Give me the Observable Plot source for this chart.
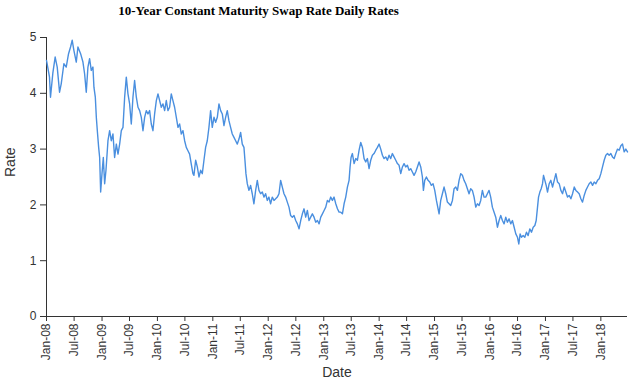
<!DOCTYPE html>
<html><head><meta charset="utf-8">
<script src="https://cdn.jsdelivr.net/npm/d3@7"></script>
<script src="https://cdn.jsdelivr.net/npm/@observablehq/plot@0.6"></script>
<style>
body{margin:0;background:#fff;}
#title{width:517px;height:30px;box-sizing:border-box;padding-top:3px;text-align:center;font:bold 13px "Liberation Serif",Georgia,serif;line-height:15px;color:#000;}
#chart svg{display:block;}
</style></head><body>
<div id="title">10-Year Constant Maturity Swap Rate Daily Rates</div>
<div id="chart"></div>
<script>
// decimal years (dates) of the readings
const years = [
2008.000,2008.054,2008.072,2008.114,2008.156,2008.193,2008.235,2008.265,2008.313,2008.355,
2008.397,2008.433,2008.463,2008.493,2008.536,2008.566,2008.614,2008.656,2008.686,2008.716,
2008.746,2008.776,2008.806,2008.836,2008.854,2008.879,2008.897,2008.915,2008.939,2008.957,
2008.975,2008.999,2009.023,2009.047,2009.071,2009.107,2009.137,2009.167,2009.197,2009.227,
2009.258,2009.288,2009.318,2009.348,2009.378,2009.408,2009.438,2009.468,2009.498,2009.528,
2009.558,2009.588,2009.619,2009.649,2009.679,2009.709,2009.739,2009.769,2009.799,2009.829,
2009.859,2009.889,2009.919,2009.949,2009.980,2010.010,2010.040,2010.070,2010.100,2010.130,
2010.160,2010.190,2010.220,2010.250,2010.280,2010.310,2010.341,2010.371,2010.401,2010.431,
2010.461,2010.491,2010.521,2010.551,2010.581,2010.611,2010.641,
2010.659,2010.690,2010.720,2010.750,2010.780,2010.810,2010.840,2010.870,2010.900,2010.930,
2010.960,2010.990,2011.021,2011.051,2011.081,2011.111,2011.141,2011.171,2011.201,2011.231,
2011.261,2011.291,2011.321,2011.351,2011.382,2011.412,2011.442,2011.472,2011.502,2011.532,
2011.562,2011.580,2011.598,2011.622,2011.652,2011.682,2011.712,2011.742,2011.773,2011.803,
2011.833,2011.863,2011.893,2011.923,2011.953,2011.983,2012.013,2012.043,2012.073,2012.104,
2012.134,2012.164,2012.194,2012.224,2012.254,2012.284,2012.314,2012.344,2012.374,2012.404,
2012.434,2012.464,2012.495,2012.525,2012.555,2012.585,2012.615,2012.645,2012.675,2012.705,
2012.735,2012.765,2012.795,2012.825,2012.856,2012.886,2012.916,2012.946,2012.976,2013.006,
2013.036,2013.066,2013.096,2013.126,2013.156,2013.186,2013.217,2013.247,2013.277,
2013.307,2013.337,2013.367,2013.397,2013.427,2013.457,2013.475,2013.493,2013.517,2013.548,
2013.578,2013.608,2013.638,2013.668,2013.698,2013.728,2013.758,2013.788,2013.818,2013.848,
2013.878,2013.908,2013.939,2013.969,2013.999,2014.029,2014.059,2014.089,2014.119,2014.149,
2014.179,2014.209,2014.239,2014.269,2014.300,2014.330,2014.360,2014.390,2014.420,2014.450,
2014.480,2014.510,2014.540,2014.570,2014.600,2014.630,2014.660,2014.691,2014.721,2014.751,
2014.781,2014.799,2014.823,2014.853,2014.883,2014.913,2014.943,2014.973,2015.004,2015.034,
2015.058,2015.082,2015.112,2015.142,2015.172,2015.202,2015.232,2015.262,2015.292,2015.323,
2015.353,2015.383,2015.413,2015.443,2015.473,2015.503,2015.533,2015.563,2015.593,2015.623,
2015.653,2015.683,2015.714,2015.744,2015.774,2015.804,2015.834,2015.864,2015.894,
2015.924,2015.954,2015.984,2016.014,2016.044,2016.075,2016.105,2016.135,2016.165,2016.195,
2016.225,2016.255,2016.285,2016.315,2016.345,2016.375,2016.405,2016.436,2016.466,2016.496,
2016.520,2016.544,2016.568,2016.598,2016.628,2016.658,2016.688,2016.718,2016.748,2016.779,
2016.809,2016.833,2016.857,2016.875,2016.899,2016.923,2016.947,2016.965,2016.989,2017.013,
2017.037,2017.067,2017.097,2017.128,2017.158,2017.188,2017.218,2017.248,2017.278,2017.308,
2017.338,2017.368,2017.398,2017.428,2017.459,2017.489,2017.519,2017.549,2017.579,2017.609,
2017.639,2017.669,2017.699,2017.729,2017.759,2017.789,2017.820,2017.850,2017.880,2017.910,
2017.940,2017.970,2018.000,2018.030,2018.060,2018.090,2018.120,2018.150,2018.180,2018.210,
2018.240,2018.270,2018.301,2018.331,2018.361,2018.391,2018.421,2018.451,2018.481
];
// 10-year swap rate readings (%)
const rates = [
4.59,4.29,3.93,4.36,4.65,4.47,4.02,4.17,4.53,4.47,
4.71,4.83,4.95,4.77,4.56,4.83,4.71,4.56,4.35,4.02,
4.47,4.62,4.41,4.47,4.11,3.93,3.57,3.33,3.03,2.85,
2.23,2.56,2.85,2.38,2.62,3.15,3.33,3.15,3.27,2.85,
3.09,2.91,3.09,3.33,3.39,3.93,4.29,3.99,3.81,3.45,
3.93,4.23,3.93,3.75,3.69,3.57,3.33,3.57,3.69,3.63,
3.69,3.45,3.33,3.63,3.87,3.99,3.87,3.75,3.81,3.69,
3.87,3.69,3.75,3.99,3.87,3.75,3.57,3.39,3.45,3.27,
3.33,3.15,3.03,2.97,2.91,2.73,2.56,
2.53,2.80,2.68,2.50,2.62,2.56,2.80,3.03,3.15,3.39,
3.69,3.39,3.57,3.48,3.57,3.81,3.69,3.63,3.42,3.57,
3.69,3.51,3.39,3.27,3.21,3.15,3.09,3.18,3.30,3.09,
3.03,2.80,2.56,2.38,2.26,2.35,2.20,2.02,2.26,2.44,
2.26,2.20,2.23,2.14,2.20,2.08,2.14,2.02,2.14,2.08,
2.11,2.14,2.20,2.44,2.32,2.20,2.14,2.05,1.96,1.81,
1.78,1.81,1.72,1.66,1.57,1.72,1.84,1.93,1.78,1.90,
1.72,1.78,1.84,1.78,1.69,1.72,1.66,1.78,1.84,1.90,
1.96,2.08,2.05,2.14,2.08,2.14,2.02,1.93,1.87,
1.87,1.84,2.02,2.14,2.32,2.44,2.68,2.85,2.92,2.74,
2.83,2.80,2.98,3.12,3.03,2.83,2.77,2.83,2.65,2.80,
2.89,2.92,2.98,3.03,3.09,3.00,2.89,2.83,2.86,2.80,
2.89,2.83,2.92,2.86,2.80,2.74,2.71,2.56,2.68,2.74,
2.68,2.71,2.62,2.65,2.59,2.53,2.59,2.68,2.77,2.68,
2.50,2.26,2.44,2.50,2.44,2.41,2.35,2.38,2.26,2.08,
1.96,1.84,2.08,2.20,2.32,2.20,2.05,2.02,1.99,2.08,
2.29,2.32,2.26,2.44,2.56,2.53,2.44,2.38,2.29,2.20,
2.29,2.26,2.14,1.96,2.02,1.99,2.08,2.26,2.14,
2.14,2.20,2.26,2.14,1.96,1.87,1.78,1.60,1.72,1.81,
1.72,1.66,1.78,1.69,1.75,1.66,1.72,1.60,1.48,1.42,
1.30,1.48,1.42,1.45,1.42,1.51,1.45,1.57,1.51,1.60,
1.63,1.72,1.96,2.14,2.23,2.29,2.38,2.53,2.44,2.35,
2.23,2.38,2.44,2.32,2.44,2.56,2.41,2.38,2.26,2.20,
2.32,2.23,2.14,2.17,2.11,2.20,2.32,2.26,2.23,2.20,
2.11,2.05,2.17,2.26,2.32,2.38,2.41,2.35,2.41,2.38,
2.44,2.47,2.56,2.68,2.80,2.89,2.92,2.89,2.92,2.86,
2.83,2.92,3.00,2.98,3.06,3.09,2.95,3.00,2.95
];
const xTickLabels = ["2008-01-01","2008-07-01","2009-01-01","2009-07-01","2010-01-01","2010-07-01",
"2011-01-01","2011-07-01","2012-01-01","2012-07-01","2013-01-01","2013-07-01","2014-01-01",
"2014-07-01","2015-01-01","2015-07-01","2016-01-01","2016-07-01","2017-01-01","2017-07-01","2018-01-01"];
const yTicks = [0,1,2,3,4,5];

function toDate(y){
  const yr = Math.floor(y + 1e-9);
  const s = Date.UTC(yr,0,1), e = Date.UTC(yr+1,0,1);
  return new Date(s + (y - yr) * (e - s));
}
const data = years.map((y,i)=>({date: toDate(y), rate: rates[i]}));
const xTicks = xTickLabels.map(s => new Date(s + "T00:00:00Z"));

const chart = Plot.plot({
  width: 631, height: 355,
  marginTop: 7, marginBottom: 69, marginLeft: 46, marginRight: 4,
  style: {fontFamily: "'Liberation Sans', Arial, sans-serif", fontSize: "12px", color: "#333", background: "white", overflow: "visible"},
  x: {type: "utc", domain: [data[0].date, data[data.length-1].date], ticks: xTicks, tickFormat: d3.utcFormat("%b-%y"), tickRotate: -90, tickSize: 5, tickPadding: 2, label: null},
  y: {domain: [0,5], ticks: yTicks, tickFormat: d => String(d), tickSize: 6, tickPadding: 4, label: null},
  marks: [
    Plot.ruleY([0], {stroke: "#333"}),
    Plot.ruleX([data[0].date], {stroke: "#333"}),
    Plot.line(data, {x: "date", y: "rate", stroke: "#4a8fdf", strokeWidth: 1.4}),
    Plot.text(["Rate"], {text: d => d, frameAnchor: "left", rotate: -90, dx: -36, fontSize: 14, fill: "#333"}),
    Plot.text(["Date"], {text: d => d, frameAnchor: "bottom", dy: 60, fontSize: 14, fill: "#333"})
  ]
});
document.getElementById("chart").appendChild(chart);
</script>
</body></html>
